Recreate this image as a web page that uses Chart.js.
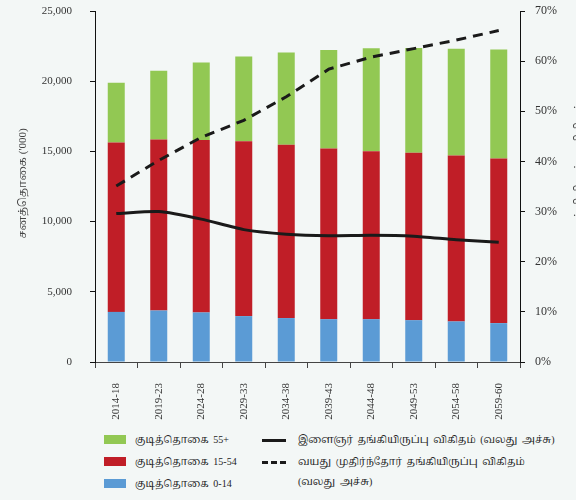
<!DOCTYPE html>
<html>
<head>
<meta charset="utf-8">
<script src="https://cdn.jsdelivr.net/npm/chart.js@4.4.0/dist/chart.umd.min.js"></script>
<style>
  html, body { margin: 0; padding: 0; background: #f3f7f6; overflow: hidden; }
  #wrap { position: relative; width: 576px; height: 500px; overflow: hidden; }
  #holder { position: absolute; left: 0; top: 0; width: 590px; height: 420px; }
  #legend { position: absolute; left: 0; top: 428px; width: 576px; font-family: "Liberation Serif", "Noto Serif Tamil", "Noto Sans Tamil", serif; font-size: 10px; word-spacing: 2px; color: #222; }
  .item { position: absolute; line-height: 20px; white-space: pre; }
  .box { position: absolute; width: 22px; height: 9px; }
  .ln { position: absolute; width: 24px; height: 0; border-top: 3px solid #1a1a1a; }
  .ln.dash { border-top-style: dashed; }
</style>
</head>
<body>
<div id="wrap">
  <div id="holder"><canvas id="mycanvas" width="590" height="420"></canvas></div>
  <div id="legend"></div>
</div>
<script>
var periods = ["2014-18", "2019-23", "2024-28", "2029-33", "2034-38", "2039-43", "2044-48", "2049-53", "2054-58", "2059-60"];
var pop0to14 = [3570, 3670, 3530, 3270, 3130, 3050, 3050, 2980, 2890, 2770];
var pop15to54 = [12060, 12170, 12290, 12450, 12350, 12150, 11960, 11930, 11810, 11720];
var pop55plus = [4260, 4900, 5510, 6040, 6560, 7030, 7340, 7460, 7620, 7760];
var youngRatio = [29.6, 30.0, 28.5, 26.4, 25.5, 25.2, 25.3, 25.1, 24.4, 23.9];
var oldRatio = [35.1, 40.2, 44.8, 48.2, 52.9, 58.4, 60.8, 62.5, 64.2, 66.1];
var leftTicks = [0, 5000, 10000, 15000, 20000, 25000];
var rightTicks = [0, 10, 20, 30, 40, 50, 60, 70];
var leftTitle = "சனத்தொகை ('000)";
var rightTitle = "தங்கியிருப்பு விகிதம்";

var serif = "'Liberation Serif', 'Times New Roman', serif";
var tamil = "'Liberation Serif', 'Noto Serif Tamil', 'Noto Sans Tamil', serif";

var ctx = document.getElementById("mycanvas");

// axis titles drawn by hand so they sit where the original has them
var axisTitles = {
	id: "axisTitles",
	afterDraw: function(chart) {
		var c = chart.ctx;
		var mid = (chart.chartArea.top + chart.chartArea.bottom) / 2;
		c.save();
		c.font = "11px " + tamil;
		c.fillStyle = "#444";
		c.textAlign = "center";
		c.textBaseline = "middle";
		c.translate(23, mid - 3);
		c.rotate(-Math.PI / 2);
		c.fillText(leftTitle, 0, 0);
		c.restore();
		c.save();
		c.font = "11px " + tamil;
		c.fillStyle = "#444";
		c.textAlign = "center";
		c.textBaseline = "middle";
		c.translate(579, mid - 20);
		c.rotate(-Math.PI / 2);
		c.fillText(rightTitle, 0, 0);
		c.restore();
	}
};

// keep the plot top where the original has it, whatever the tick padding
function fixY(width) {
	return function(s) {
		s.width = width;
		s.paddingTop = 11;
		s.paddingBottom = 0;
	};
}

var chartdata = {
	labels: periods,
	datasets: [
		{
			type: "line",
			label: "இளைஞர் தங்கியிருப்பு விகிதம் (வலது அச்சு)",
			data: youngRatio,
			yAxisID: "y1",
			borderColor: "#1a1a1a",
			borderWidth: 3,
			pointRadius: 0,
			tension: 0.2,
			fill: false,
			order: 0
		},
		{
			type: "line",
			label: "வயது முதிர்ந்தோர் தங்கியிருப்பு விகிதம்\n(வலது அச்சு)",
			data: oldRatio,
			yAxisID: "y1",
			borderColor: "#1a1a1a",
			borderWidth: 3,
			borderDash: [10, 7],
			pointRadius: 0,
			tension: 0,
			fill: false,
			order: 0
		},
		{
			label: "குடித்தொகை 0-14",
			data: pop0to14,
			backgroundColor: "#5b9bd5",
			yAxisID: "y",
			order: 1
		},
		{
			label: "குடித்தொகை 15-54",
			data: pop15to54,
			backgroundColor: "#c01e27",
			yAxisID: "y",
			order: 1
		},
		{
			label: "குடித்தொகை 55+",
			data: pop55plus,
			backgroundColor: "#92c853",
			yAxisID: "y",
			order: 1
		}
	]
};

var new_chart = new Chart(ctx, {
	type: "bar",
	data: chartdata,
	plugins: [axisTitles],
	options: {
		responsive: false,
		animation: false,
		devicePixelRatio: 1,
		layout: { padding: 0 },
		datasets: { bar: { categoryPercentage: 1, barPercentage: 0.4 } },
		plugins: { legend: { display: false }, tooltip: { enabled: false } },
		scales: {
			x: {
				stacked: true,
				offset: true,
				grid: { drawOnChartArea: false, drawTicks: true, tickLength: 6, color: "#444", offset: true },
				border: { display: true, color: "#444", width: 1 },
				ticks: { font: { family: serif, size: 11 }, color: "#333", minRotation: 90, maxRotation: 90, padding: 15, autoSkip: false },
				afterFit: function(s) { s.height = 58; }
			},
			y: {
				stacked: true,
				position: "left",
				min: 0,
				max: 25000,
				afterBuildTicks: function(s) { s.ticks = leftTicks.map(function(v) { return { value: v }; }); },
				grid: { drawOnChartArea: false, drawTicks: true, tickLength: 5, color: "#111" },
				border: { display: true, color: "#111", width: 1 },
				ticks: { font: { family: serif, size: 11 }, color: "#333", padding: 18,
					callback: function(v) { return v.toLocaleString("en-US"); } },
				afterFit: fixY(95)
			},
			y1: {
				position: "right",
				min: 0,
				max: 70,
				afterBuildTicks: function(s) { s.ticks = rightTicks.map(function(v) { return { value: v }; }); },
				grid: { drawOnChartArea: false, drawTicks: true, tickLength: 5, color: "#111" },
				border: { display: true, color: "#111", width: 1 },
				ticks: { font: { family: serif, size: 12 }, color: "#333", padding: 10,
					callback: function(v) { return v + "%"; } },
				afterFit: fixY(70)
			}
		}
	}
});

// legend built from the datasets
var legend = document.getElementById("legend");
var ds = chartdata.datasets;
var leftItems = [ds[4], ds[3], ds[2]];
leftItems.forEach(function(d, i) {
	var b = document.createElement("div");
	b.className = "box";
	b.style.left = "104px";
	b.style.top = (7 + i * 22) + "px";
	b.style.background = d.backgroundColor;
	legend.appendChild(b);
	var t = document.createElement("div");
	t.className = "item";
	t.style.left = "135px";
	t.style.top = (2 + i * 22) + "px";
	t.textContent = d.label;
	legend.appendChild(t);
});
[ds[0], ds[1]].forEach(function(d, i) {
	var l = document.createElement("div");
	l.className = "ln" + (d.borderDash ? " dash" : "");
	l.style.left = "262px";
	l.style.top = (11 + i * 22) + "px";
	legend.appendChild(l);
	var t = document.createElement("div");
	t.className = "item";
	t.style.left = "298px";
	t.style.top = (2 + i * 22) + "px";
	t.textContent = d.label;
	legend.appendChild(t);
});
</script>
</body>
</html>
